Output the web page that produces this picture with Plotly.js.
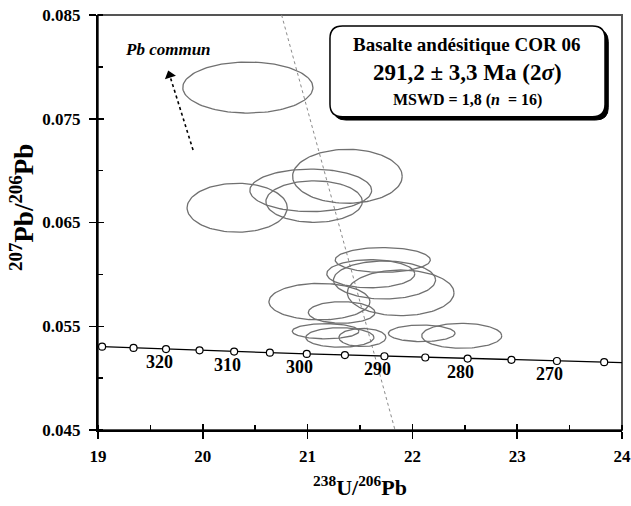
<!DOCTYPE html>
<html>
<head>
<meta charset="utf-8">
<script src="https://cdn.plot.ly/plotly-3.0.1.min.js"></script>
<style>html,body{margin:0;padding:0;background:#fff;}#chart{width:631px;height:506px;}</style>
</head>
<body>
<div id="chart"></div>
<script>
// Concordia (Tera-Wasserburg) points, ages in Ma
const concAges = [330, 325, 320, 315, 310, 305, 300, 295, 290, 285, 280, 275, 270, 265];
const concX = [19.039, 19.339, 19.649, 19.969, 20.299, 20.640, 20.992, 21.356, 21.733, 22.123, 22.527, 22.945, 23.379, 23.830];
const concY = [0.05303, 0.05291, 0.05280, 0.05268, 0.05256, 0.05245, 0.05233, 0.05222, 0.05211, 0.05199, 0.05188, 0.05176, 0.05165, 0.05154];
// concordia curve ends at plot edges
const concLineX = [19.0, 19.039, 20.992, 23.830, 24.0];
const concLineY = [0.05305, 0.05303, 0.05233, 0.05154, 0.05150];
// labelled ages
const labelAges = [320, 310, 300, 290, 280, 270];

// analyses: ellipse centres and half-axes (2 sigma)
const ellX  = [20.430, 20.328, 21.030, 21.062, 21.380, 21.717, 21.603, 21.734, 21.888, 21.113, 21.325, 21.172, 21.308, 21.523, 22.089, 22.471];
const ellY  = [0.07801, 0.06642, 0.06810, 0.06702, 0.06945, 0.06139, 0.06006, 0.05946, 0.05822, 0.05737, 0.05633, 0.05452, 0.05392, 0.05392, 0.05432, 0.05408];
const ellRx = [0.621, 0.478, 0.581, 0.460, 0.523, 0.454, 0.420, 0.487, 0.509, 0.482, 0.318, 0.318, 0.325, 0.224, 0.318, 0.382];
const ellRy = [0.00246, 0.00236, 0.00205, 0.00200, 0.00260, 0.00119, 0.00135, 0.00183, 0.00220, 0.00176, 0.00104, 0.00073, 0.00094, 0.00087, 0.00080, 0.00120];

// regression line through common Pb
const discX = [20.752, 21.834];
const discY = [0.085, 0.045];

// common Pb arrow (tail -> head)
const arrowX = [19.907, 19.684];
const arrowY = [0.07199, 0.07920];

const FONT = 'Liberation Serif, Times New Roman, serif';

// build ellipse outlines
const ex = [], ey = [];
const N = 120;
for (let i = 0; i < ellX.length; i++) {
  for (let k = 0; k <= N; k++) {
    const a = 2 * Math.PI * k / N;
    ex.push(ellX[i] + ellRx[i] * Math.cos(a));
    ey.push(ellY[i] + ellRy[i] * Math.sin(a));
  }
  ex.push(null); ey.push(null);
}

const traces = [
  {x: discX, y: discY, mode: 'lines', line: {color: '#8a8a8a', width: 1, dash: 'dot'}, hoverinfo: 'skip', showlegend: false},
  {x: ex, y: ey, mode: 'lines', line: {color: '#707070', width: 1.3}, hoverinfo: 'skip', showlegend: false, connectgaps: false},
  {x: concLineX, y: concLineY, mode: 'lines', line: {color: '#000', width: 1.3}, hoverinfo: 'skip', showlegend: false},
  {x: concX, y: concY, mode: 'markers', marker: {symbol: 'circle', size: 7, color: '#fff', line: {color: '#000', width: 1.2}}, text: concAges, hoverinfo: 'text', showlegend: false},
  {x: arrowX, y: arrowY, mode: 'lines', line: {color: '#000', width: 1.6, dash: 'dot'}, hoverinfo: 'skip', showlegend: false},
  {x: [arrowX[1]], y: [arrowY[1]], mode: 'markers', marker: {symbol: 'triangle-up', size: 10, angle: -17, color: '#000', line: {width: 0}}, hoverinfo: 'skip', showlegend: false},
  {x: [], y: [], xaxis: 'x2', yaxis: 'y2', showlegend: false}
];

const annotations = [];
labelAges.forEach(a => {
  const i = concAges.indexOf(a);
  annotations.push({x: concX[i], y: concY[i], xref: 'x', yref: 'y', text: String(a), showarrow: false,
    xshift: -7, yshift: -13, font: {family: FONT, size: 18, color: '#000', weight: 'bold'}});
});
annotations.push({x: 19.668, y: 0.08163, xref: 'x', yref: 'y', text: '<i>Pb commun</i>', showarrow: false,
  xanchor: 'center', font: {family: FONT, size: 17, color: '#000', weight: 'bold'}});
// y-axis title
annotations.push({x: 0, y: 0.535, xref: 'paper', yref: 'paper', xanchor: 'center', yanchor: 'middle', xshift: -76,
  textangle: -90, text: '<sup>207</sup>Pb/<sup>206</sup>Pb', showarrow: false,
  font: {family: FONT, size: 27, color: '#000', weight: 'bold'}});
// box texts
annotations.push({x: 0.705, y: 0.928, xref: 'paper', yref: 'paper', xanchor: 'center', yanchor: 'middle', text: 'Basalte andésitique COR 06', showarrow: false,
  font: {family: FONT, size: 19, color: '#000', weight: 'bold'}});
annotations.push({x: 0.705, y: 0.862, xref: 'paper', yref: 'paper', xanchor: 'center', yanchor: 'middle', text: '291,2 ± 3,3 Ma (2<i>σ</i>)', showarrow: false,
  font: {family: FONT, size: 23, color: '#000', weight: 'bold'}});
annotations.push({x: 0.705, y: 0.795, xref: 'paper', yref: 'paper', xanchor: 'center', yanchor: 'middle', text: 'MSWD = 1,8 (<i>n</i>  = 16)', showarrow: false,
  font: {family: FONT, size: 16, color: '#000', weight: 'bold'}});

function roundRect(x0, y0, x1, y1, rx, ry) {
  return `M ${x0+rx},${y1} L ${x1-rx},${y1} Q ${x1},${y1} ${x1},${y1-ry} L ${x1},${y0+ry} Q ${x1},${y0} ${x1-rx},${y0} ` +
         `L ${x0+rx},${y0} Q ${x0},${y0} ${x0},${y0+ry} L ${x0},${y1-ry} Q ${x0},${y1} ${x0+rx},${y1} Z`;
}
const bx0 = 0.4427, bx1 = 0.9676, by0 = 0.7549, by1 = 0.9735, rx = 0.024, ry = 0.030;
const sdx = 0.0062, sdy = 0.0080;

const shapes = [
  {type: 'rect', xref: 'paper', yref: 'paper', x0: 0, x1: 1, y0: 0, y1: 1, line: {color: '#555', width: 2}, layer: 'below'},
  {type: 'path', xref: 'paper', yref: 'paper', path: roundRect(bx0 + sdx, by0 - sdy, bx1 + sdx, by1 - sdy, rx, ry), fillcolor: '#000', line: {color: '#000', width: 1}},
  {type: 'path', xref: 'paper', yref: 'paper', path: roundRect(bx0, by0, bx1, by1, rx, ry), fillcolor: '#fff', line: {color: '#000', width: 1.5}}
];

const axisCommon = {
  showgrid: false, zeroline: false, showline: true, linecolor: '#000', linewidth: 2,
  ticks: 'outside', ticklen: 7, tickwidth: 1.5, tickcolor: '#000',
  tickfont: {family: FONT, size: 17, color: '#000', weight: 'bold'},
  minor: {ticks: 'inside', ticklen: 5, tickwidth: 1.5, tickcolor: '#000', showgrid: false}
};

const layout = {
  width: 631, height: 506,
  margin: {l: 98, r: 9, t: 15, b: 76, autoexpand: false},
  paper_bgcolor: '#fff', plot_bgcolor: '#fff',
  font: {family: FONT, color: '#000'},
  showlegend: false,
  xaxis: Object.assign({}, axisCommon, {
    range: [19, 24], dtick: 1, tick0: 19, ticklabelstandoff: 3,
    minor: Object.assign({}, axisCommon.minor, {dtick: 0.5}),
    title: {text: '<sup>238</sup>U/<sup>206</sup>Pb', font: {family: FONT, size: 22, weight: 'bold'}, standoff: 14}
  }),
  yaxis: Object.assign({}, axisCommon, {
    range: [0.045, 0.085], dtick: 0.01, tick0: 0.045, tickformat: '.3f', ticklabelstandoff: 5,
    minor: Object.assign({}, axisCommon.minor, {dtick: 0.005})
  }),
  xaxis2: {overlaying: 'x', anchor: 'y', range: [19, 24], dtick: 1, tick0: 19, ticks: 'inside', ticklen: 6, tickwidth: 1.5, tickcolor: '#000',
    showticklabels: false, showgrid: false, zeroline: false, showline: false},
  yaxis2: {overlaying: 'y', anchor: 'x', range: [0.045, 0.085], dtick: 0.01, tick0: 0.045, ticks: 'inside', ticklen: 6, tickwidth: 1.5, tickcolor: '#000',
    showticklabels: false, showgrid: false, zeroline: false, showline: false},
  annotations: annotations,
  shapes: shapes
};

Plotly.newPlot('chart', traces, layout, {displayModeBar: false, staticPlot: true});
</script>
</body>
</html>
